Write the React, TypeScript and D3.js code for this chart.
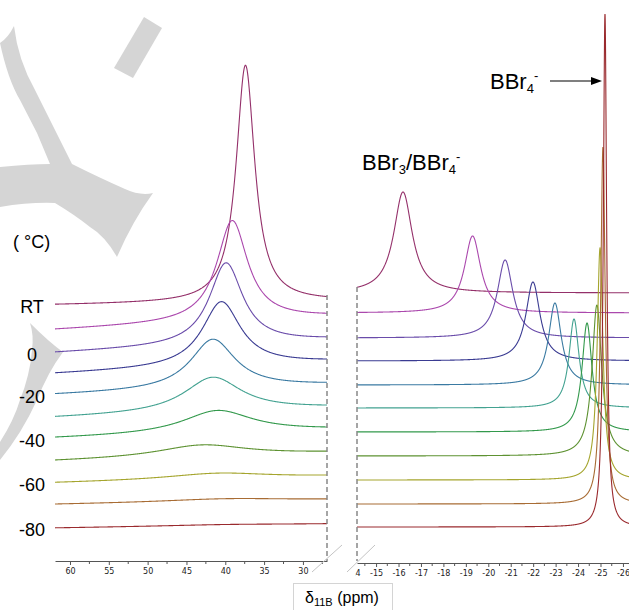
import React, { useRef, useEffect } from 'react'
import * as d3 from 'd3'

// temperatures of the stacked 11B spectra, top (RT) to bottom (-80 °C)
const temperatures = ['RT', '10', '0', '-10', '-20', '-30', '-40', '-50', '-60', '-70', '-80']
const labelledTemps = ['RT', '0', '-20', '-40', '-60', '-80']
const traceColors = ['#94306a', '#ab48ad', '#6a4caa', '#3a3b92', '#3a7aa2', '#43a291', '#33994c', '#5e9232', '#a5a52e', '#a86c34', '#9a2a2e']

// low-field region (62 .. 27 ppm): broad adduct signal
const leftCenters = [37.4, 39.1, 39.9, 40.5, 41.6, 41.6, 41.0, 43.0, 41.0, 40.0, 40.0]
const leftHeights = [237, 101, 82, 65, 50, 35, 23, 12, 6, 3, 1]
const leftWidths = [1.45, 2.4, 2.6, 3.0, 3.5, 4.5, 5.5, 7, 8, 10, 10]
const leftBaseStart = [256, 231, 208, 187, 166, 143, 122.5, 99.6, 78, 56.5, 33] // at 62 ppm
const leftBaseEnd = [260, 244, 221, 199, 176, 153, 131, 108, 84.5, 61, 37] // at 27 ppm

// high-field region (-14 .. -26 ppm): BBr3/BBr4- exchange peak
const rightCenters = [-16.2, -19.3, -20.75, -21.99, -22.97, -23.82, -24.4, -24.84, -24.98, -25.11, -25.2]
const rightHeights = [101, 77, 78, 79, 82, 89, 109, 151, 232, 357, 513]
const rightWidths = [0.5, 0.44, 0.42, 0.38, 0.34, 0.27, 0.27, 0.26, 0.155, 0.12, 0.09]
const rightBase = [268, 248, 223, 200, 176, 153, 129, 105, 81, 57, 34]

const leftTicks = [60, 55, 50, 45, 40, 35, 30]
const rightTicks = [-14, -15, -16, -17, -18, -19, -20, -21, -22, -23, -24, -25, -26]

const lorentz = (c, hgt, wd) => (p) => hgt * wd * wd / (wd * wd + (p - c) * (p - c))

const App = () => {
    const ref = useRef(null)
    useEffect(() => {
        const w = 629
        const h = 610
        const svg = d3.select(ref.current)
            .attr('width', w)
            .attr('height', h)
            .style('position', 'absolute')
            .style('left', 0)
            .style('top', 0)
            .style('background', 'white')
        svg.selectAll('*').remove()

        // watermark
        const wm = svg.append('g').attr('fill', '#d5d5d5')
        wm.append('path').attr('d', 'M144,17 L162,28 L133,78 L114,68 Z')
        wm.append('path').attr('d', 'M14,26 Q18,60 35,90 L55,130 L72,164 Q100,178 125,189 Q140,196 153,193 Q132,222 117,257 Q105,236 90,227 Q75,215 55,203 Q30,202 0,207 L0,167 Q30,164 50,164 L37,133 L20,100 Q8,80 0,43 Q8,38 14,26 Z')
        wm.append('path').attr('d', 'M30,323 Q50,343 63,352 Q48,372 37,400 Q22,433 0,460 L0,442 Q14,420 20,400 Q30,375 32,350 Q34,335 30,323 Z')

        // scales
        const xLeft = d3.scaleLinear().domain([61.93, 26.9]).range([55, 327])
        const xRight = d3.scaleLinear().domain([-14.15, -26.27]).range([357, 629])
        const y = d3.scaleLinear().domain([0, 550]).range([561, 11])

        const defs = svg.append('defs')
        defs.append('clipPath').attr('id', 'clipL').append('rect')
            .attr('x', 55).attr('y', 0).attr('width', 272).attr('height', 562)
        defs.append('clipPath').attr('id', 'clipR').append('rect')
            .attr('x', 357).attr('y', 0).attr('width', 272).attr('height', 562)
        defs.append('clipPath').attr('id', 'clipRA').append('rect')
            .attr('x', 355).attr('y', -30).attr('width', 280).attr('height', 60)

        // spectra
        const leftPpm = d3.range(61.93, 26.85, -0.05)
        const rightPpm = d3.range(-14.15, -26.3, -0.005)

        const leftLine = d3.line().x(d => xLeft(d[0])).y(d => y(d[1]))
        const rightLine = d3.line().x(d => xRight(d[0])).y(d => y(d[1]))

        const gl = svg.append('g').attr('clip-path', 'url(#clipL)')
        const gr = svg.append('g').attr('clip-path', 'url(#clipR)')

        temperatures.forEach((t, i) => {
            const peakL = lorentz(leftCenters[i], leftHeights[i], leftWidths[i])
            const base = d3.scaleLinear().domain([61.93, 26.9]).range([leftBaseStart[i], leftBaseEnd[i]])
            const ptsL = leftPpm.map(p => [p, base(p) + peakL(p)])
            gl.append('path')
                .attr('d', leftLine(ptsL))
                .attr('fill', 'none')
                .attr('stroke', traceColors[i])
                .attr('stroke-width', 1.1)

            const peakR = lorentz(rightCenters[i], rightHeights[i], rightWidths[i])
            const ptsR = rightPpm.map(p => [p, rightBase[i] + peakR(p)])
            gr.append('path')
                .attr('d', rightLine(ptsR))
                .attr('fill', 'none')
                .attr('stroke', traceColors[i])
                .attr('stroke-width', 1.1)
        })

        // axes
        const styleAxis = g => {
            g.select('.domain').attr('stroke', '#555')
            g.selectAll('.tick line').attr('stroke', '#555')
            g.selectAll('.tick text')
                .attr('fill', '#222')
                .style('font-family', '"DejaVu Sans", Verdana, sans-serif')
                .style('font-size', '8px')
        }

        const leftMinor = d3.range(57.5, 26.9, -5)
        const rightMinor = d3.range(-14.5, -26.3, -1)

        const axL = svg.append('g').attr('transform', 'translate(0,561)')
        axL.call(d3.axisBottom(xLeft).tickValues(leftTicks).tickSize(4).tickSizeOuter(0).tickPadding(3).tickFormat(d => String(d)))
        axL.call(styleAxis)
        axL.append('g').selectAll('line').data(leftMinor).join('line')
            .attr('x1', d => xLeft(d)).attr('x2', d => xLeft(d))
            .attr('y1', 0).attr('y2', 3).attr('stroke', '#555')

        const axR = svg.append('g').attr('transform', 'translate(0,563)').attr('clip-path', 'url(#clipRA)')
        axR.call(d3.axisBottom(xRight).tickValues(rightTicks).tickSize(4).tickSizeOuter(0).tickPadding(3).tickFormat(d => String(d)))
        axR.call(styleAxis)
        axR.append('g').selectAll('line').data(rightMinor).join('line')
            .attr('x1', d => xRight(d)).attr('x2', d => xRight(d))
            .attr('y1', 0).attr('y2', 3).attr('stroke', '#555')

        // axis break: dashed ends and slashes
        svg.append('line')
            .attr('x1', 327).attr('x2', 327).attr('y1', 295).attr('y2', 561)
            .attr('stroke', '#888').attr('stroke-width', 1.5).attr('stroke-dasharray', '5,3')
        svg.append('line')
            .attr('x1', 357).attr('x2', 357).attr('y1', 287).attr('y2', 561)
            .attr('stroke', '#888').attr('stroke-width', 1.5).attr('stroke-dasharray', '5,3')
        svg.append('line')
            .attr('x1', 312).attr('y1', 572).attr('x2', 342).attr('y2', 545)
            .attr('stroke', '#c4c4c4').attr('stroke-width', 1)
        svg.append('line')
            .attr('x1', 347).attr('y1', 572).attr('x2', 375).attr('y2', 545)
            .attr('stroke', '#c4c4c4').attr('stroke-width', 1)

        const font = '"Liberation Sans", Arial, sans-serif'

        // temperature labels
        svg.append('text')
            .attr('x', 13).attr('y', 248)
            .style('font-family', font).style('font-size', '18px')
            .text('( °C)')
        temperatures.forEach((t, i) => {
            if (!labelledTemps.includes(t)) return
            svg.append('text')
                .attr('x', 32).attr('y', y(leftBaseStart[i]) + 8)
                .attr('text-anchor', 'middle')
                .style('font-family', font).style('font-size', '18px')
                .text(t)
        })

        // peak annotations
        const t1 = svg.append('text').attr('x', 362).attr('y', 170)
            .style('font-family', font).style('font-size', '22px')
        t1.append('tspan').text('BBr')
        t1.append('tspan').attr('dy', 4).style('font-size', '13px').text('3')
        t1.append('tspan').attr('dy', -4).text('/BBr')
        t1.append('tspan').attr('dy', 4).style('font-size', '13px').text('4')
        t1.append('tspan').attr('dy', -13).style('font-size', '13px').text('-')

        const t2 = svg.append('text').attr('x', 490).attr('y', 89)
            .style('font-family', font).style('font-size', '22px')
        t2.append('tspan').text('BBr')
        t2.append('tspan').attr('dy', 4).style('font-size', '13px').text('4')
        t2.append('tspan').attr('dy', -13).style('font-size', '13px').text('-')

        svg.append('line')
            .attr('x1', 550).attr('y1', 81).attr('x2', 593).attr('y2', 81)
            .attr('stroke', '#000').attr('stroke-width', 1.2)
        svg.append('path').attr('d', 'M591,77 L602,81 L591,85 Z').attr('fill', '#000')

        // x axis title
        svg.append('rect')
            .attr('x', 293.5).attr('y', 583.5).attr('width', 99).attr('height', 40)
            .attr('fill', 'none').attr('stroke', '#d4d4d4')
        const xt = svg.append('text').attr('x', 342).attr('y', 603)
            .attr('text-anchor', 'middle')
            .style('font-family', font).style('font-size', '16px')
        xt.append('tspan').text('δ')
        xt.append('tspan').attr('dy', 3).style('font-size', '11px').text('11B')
        xt.append('tspan').attr('dy', -3).text(' (ppm)')
    }, [])
    return (
        <div>
            <svg ref={ref}></svg>
        </div>
    )
}

export default App
